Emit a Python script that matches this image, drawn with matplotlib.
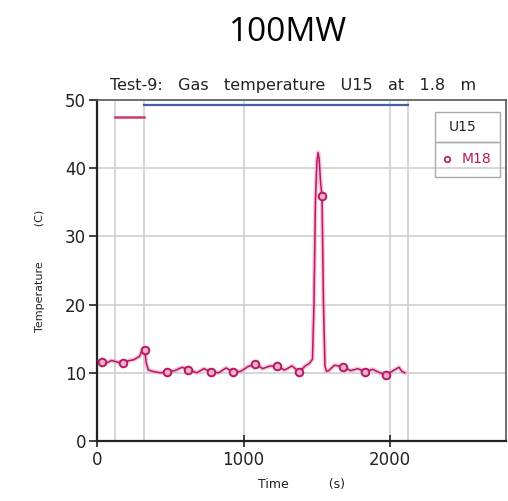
import matplotlib
matplotlib.use("Agg")
import matplotlib.pyplot as plt
from matplotlib.patches import Rectangle

# ---- data ----
time_s = [0, 20, 60, 100, 150, 200, 250, 290, 310, 325, 335, 350, 380, 430, 480, 530,
          580, 630, 680, 730, 780, 830, 880, 930, 980, 1030, 1080, 1130, 1180, 1230,
          1280, 1330, 1380, 1420, 1450, 1470, 1480, 1490, 1500, 1508, 1515, 1525, 1535,
          1545, 1555, 1565, 1580, 1620, 1680, 1730, 1780, 1830, 1880, 1930, 1975, 2020,
          2060, 2080, 2100]
temp_c = [11.8, 11.6, 11.4, 11.8, 11.5, 11.7, 11.9, 12.4, 13.4, 13.6, 11.5, 10.4, 10.2,
          10.0, 10.1, 10.3, 10.8, 10.4, 10.0, 10.6, 10.1, 10.0, 10.7, 10.1, 10.2, 10.9,
          11.3, 10.6, 11.0, 10.9, 10.4, 11.0, 10.1, 11.0, 11.4, 12.0, 20.0, 35.0, 41.0,
          42.3, 41.5, 38.0, 35.9, 20.0, 11.0, 10.2, 10.3, 11.1, 10.9, 10.3, 10.6, 10.1,
          10.5, 10.0, 9.7, 10.3, 10.8, 10.2, 10.0]
marker_t = [34, 178, 328, 478, 621, 778, 928, 1078, 1228, 1379, 1535, 1680, 1830, 1973]
marker_v = [11.6, 11.5, 13.4, 10.1, 10.4, 10.1, 10.1, 11.3, 11.0, 10.1, 35.9, 10.9, 10.1, 9.7]

blue_t = [320, 2120]
blue_v = [49.3, 49.3]
red_t = [120, 320]
red_v = [47.5, 47.5]

vgrid = [120, 320, 1000, 2000, 2120]
hgrid = [10, 20, 30, 40]
xticks = [0, 1000, 2000]
yticks = [0, 10, 20, 30, 40, 50]

mag = "#b8185f"

fig = plt.figure(figsize=(5.08, 5.01), dpi=100)
ax = fig.add_axes([0.191, 0.120, 0.805, 0.680])
ax.set_xlim(0, 2790)
ax.set_ylim(0, 50)

for v in vgrid:
    ax.axvline(v, color="#cccccc", lw=1.1, zorder=1)
for h in hgrid:
    ax.axhline(h, color="#cccccc", lw=1.1, zorder=1)

ax.plot(blue_t, blue_v, color="#4a5ea8", lw=1.6, zorder=2)
ax.plot(red_t, red_v, color="#c83a6a", lw=1.8, zorder=2)

ax.plot(time_s, temp_c, color="#f0a0c8", lw=3.2, alpha=0.6, zorder=2)
ax.plot(time_s, temp_c, color=mag, lw=1.1, zorder=3)
ax.plot(marker_t, marker_v, ls="none", marker="o", ms=5.5, mfc="#eab0cc",
        mec=mag, mew=1.4, zorder=4)

ax.set_xticks(xticks)
ax.set_yticks(yticks)
ax.tick_params(axis="both", labelsize=12, colors="#222222", width=1.2)
ax.tick_params(axis="y", direction="out", length=6, pad=2)
ax.tick_params(axis="x", direction="inout", length=9, pad=3)
for s in ["left", "bottom"]:
    ax.spines[s].set_color("#222222")
    ax.spines[s].set_linewidth(1.6)
for s in ["top", "right"]:
    ax.spines[s].set_color("#555555")
    ax.spines[s].set_linewidth(1.2)

ax.set_xlabel("Time          (s)", fontsize=9, color="#222222", labelpad=6)
ax.set_ylabel("Temperature          (C)", fontsize=8, color="#222222", labelpad=14)
ax.set_title("Test-9:   Gas   temperature   U15   at   1.8   m", fontsize=11.5,
             color="#222222", pad=7, x=0.48)

fig.text(0.567, 0.935, "100MW", ha="center", va="center", fontsize=24,
         family="Open Sans", color="black")

# legend box
lx0, lx1, ly0, ly1, lmid = 0.826, 0.985, 0.776, 0.965, 0.876
ax.add_patch(Rectangle((lx0, lmid), lx1 - lx0, ly1 - lmid, transform=ax.transAxes,
                       fill=False, ec="#aaaaaa", lw=1.0, zorder=5))
ax.add_patch(Rectangle((lx0, ly0), lx1 - lx0, lmid - ly0, transform=ax.transAxes,
                       fill=False, ec="#aaaaaa", lw=1.0, zorder=5))
ax.text(lx0 + 0.035, (ly1 + lmid) / 2, "U15", transform=ax.transAxes, fontsize=10,
        va="center", ha="left", color="#222222")
ax.plot([lx0 + 0.03], [(lmid + ly0) / 2], transform=ax.transAxes, marker="o", ms=4,
        mfc="none", mec=mag, mew=1.2, ls="none", zorder=6)
ax.text(lx0 + 0.065, (lmid + ly0) / 2, "M18", transform=ax.transAxes, fontsize=10,
        va="center", ha="left", color=mag)

fig.savefig("out.png", dpi=100)
